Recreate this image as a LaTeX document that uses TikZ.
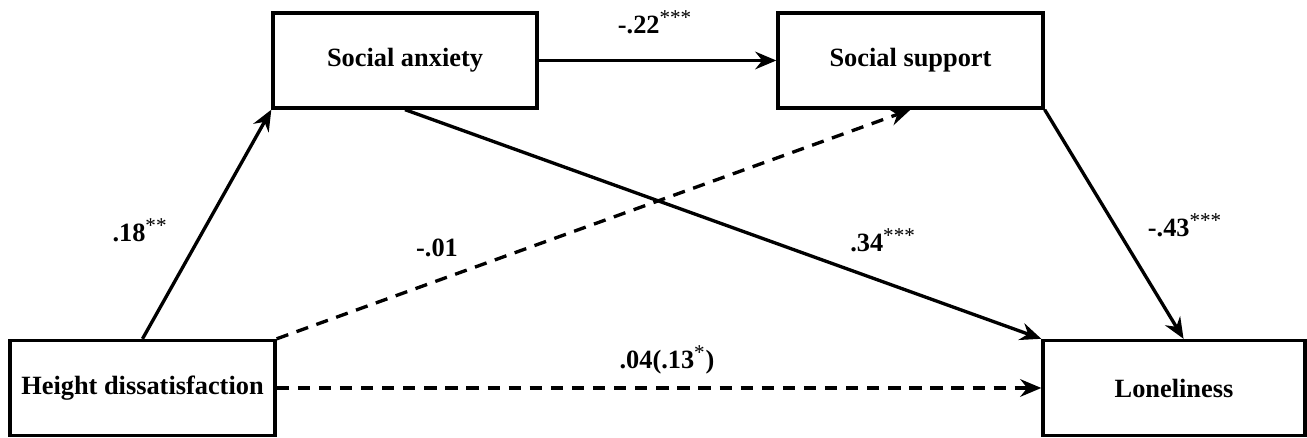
\documentclass[tikz,border=0pt]{standalone}
\usepackage{fontspec}
\setmainfont{Liberation Serif}
\usetikzlibrary{arrows.meta}
\newcommand{\sig}[1]{\textsuperscript{\mdseries\fontsize{12}{12}\selectfont #1}}
\begin{document}
\begin{tikzpicture}[
            >={Stealth[length=12pt,width=10pt,inset=4pt]},
            every node/.style={font=\bfseries\fontsize{15}{18}\selectfont},
            var/.style={draw,line width=1.9pt,minimum height=1.9cm,inner sep=0pt},
            path/.style={->,line width=1.9pt},
            nopath/.style={->,line width=1.9pt,dash pattern=on 7pt off 5pt}
            ]
            \useasboundingbox (0,0) rectangle (26.14,8.76);
            \node[var,minimum width=5.3cm] (hd) at (2.85, 1.0) {Height dissatisfaction};
            \node[var,minimum width=5.28cm] (sa) at (8.1, 7.55) {Social anxiety};
            \node[var,minimum width=5.3cm] (ss) at (18.21, 7.55) {Social support};
            \node[var,minimum width=5.24cm] (lo) at (23.48, 1.0) {Loneliness};
            \draw[path] (hd.north) -- (sa.south west);
            \draw[path] (sa.east) -- (ss.west);
            \draw[path] (sa.south) -- (lo.north west);
            \draw[path] (ss.south east) -- (lo.79);
            \draw[nopath] (hd.north east) -- (ss.south);
            \draw[nopath] (hd.east) -- (lo.west);
            \node (b1) at (2.8, 4.16) {.18\sig{**}};
            \node (b2) at (13.1, 8.32) {-.22\sig{***}};
            \node (b3) at (8.74, 3.8) {-.01};
            \node (b4) at (17.66, 3.96) {.34\sig{***}};
            \node (b5) at (23.7, 4.26) {-.43\sig{***}};
            \node (b6) at (13.34, 1.56) {.04(.13\sig{*})};
        \end{tikzpicture}
\end{document}
